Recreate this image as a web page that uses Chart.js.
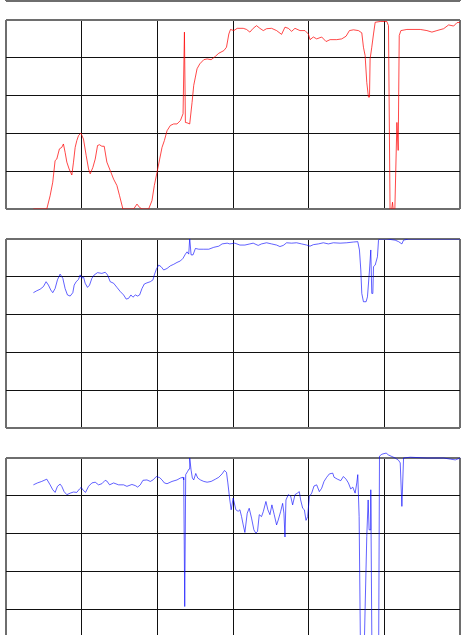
<!DOCTYPE html>
<html lang="en">
<head>
    <meta charset="UTF-8">
    <title>Three trace panels</title>
    <script src="https://cdn.jsdelivr.net/npm/chart.js"></script>
    <style>
        body {
            margin: 0;
            width: 466px;
            height: 635px;
            overflow: hidden;
            background: #fff;
            position: relative;
        }
        canvas {
            position: absolute;
            left: 0;
        }
    </style>
</head>
<body>
    <canvas id="strip" width="466" height="110" style="top:-100px"></canvas>
    <canvas id="red" width="466" height="220" style="top:0px"></canvas>
    <canvas id="blueA" width="466" height="220" style="top:219px"></canvas>
    <canvas id="blueB" width="466" height="220" style="top:438px"></canvas>

    <script>
        // x in grid units (6 columns of 10), y in grid units (5 rows of 1)
        const redX = [3.62, 5.39, 5.83, 6.18, 6.49, 6.71, 7.06, 7.37, 7.59, 7.81, 8.04, 8.34, 8.70, 8.92, 9.14, 9.36, 9.58, 9.89, 10.24, 10.60, 10.91, 11.13, 11.48, 11.79, 12.10, 12.36, 12.67, 12.98, 13.33, 13.77, 14.22, 14.66, 15.01, 15.45, 16.87, 17.31, 17.66, 17.97, 18.85, 19.29, 19.60, 19.96, 20.31, 20.62, 20.93, 21.28, 21.72, 22.16, 22.60, 23.05, 23.40, 23.58, 23.71, 23.93, 24.28, 24.59, 24.81, 25.03, 25.25, 25.61, 26.14, 26.58, 27.11, 27.68, 28.12, 28.79, 29.14, 29.45, 29.67, 30.11, 30.55, 31.35, 31.79, 32.23, 32.67, 33.11, 33.55, 34.00, 34.44, 35.10, 35.76, 36.42, 36.87, 37.31, 37.75, 38.19, 38.85, 39.51, 39.96, 40.18, 40.62, 41.06, 41.72, 42.30, 42.83, 43.71, 44.37, 44.94, 45.39, 45.92, 46.58, 47.02, 47.24, 47.46, 47.68, 47.90, 48.04, 48.12, 48.34, 48.57, 48.79, 49.45, 50.33, 50.55, 50.77, 51.08, 51.35, 51.66, 51.83, 51.97, 52.19, 52.98, 54.75, 55.63, 56.29, 56.95, 57.84, 58.50, 59.16, 59.60, 60.04];
        const redY = [0, 0, 0.35, 0.71, 1.28, 1.32, 1.59, 1.63, 1.72, 1.50, 1.24, 1.06, 0.90, 1.24, 1.63, 1.81, 1.94, 2.01, 1.85, 1.41, 1.06, 0.93, 1.10, 1.32, 1.68, 1.70, 1.66, 1.66, 1.24, 1.02, 0.79, 0.62, 0.35, 0, 0, 0.13, 0.04, 0, 0, 0.22, 0.62, 0.97, 1.32, 1.63, 1.81, 2.07, 2.21, 2.25, 2.25, 2.34, 2.52, 4.68, 2.29, 2.28, 2.25, 2.82, 3.27, 3.49, 3.71, 3.84, 3.95, 3.97, 3.95, 4.04, 4.12, 4.19, 4.28, 4.63, 4.75, 4.72, 4.78, 4.78, 4.75, 4.68, 4.78, 4.85, 4.78, 4.72, 4.77, 4.78, 4.72, 4.62, 4.81, 4.78, 4.70, 4.78, 4.72, 4.72, 4.63, 4.48, 4.55, 4.50, 4.55, 4.43, 4.48, 4.48, 4.50, 4.57, 4.72, 4.74, 4.72, 4.66, 4.28, 4.06, 3.35, 2.96, 2.96, 3.97, 4.28, 4.63, 4.94, 4.96, 4.96, 4.85, -0.35, 0.18, -0.35, 2.29, 1.55, 4.59, 4.72, 4.75, 4.75, 4.72, 4.68, 4.72, 4.77, 4.87, 4.84, 4.93, 4.94];

        const blueAX = [3.62, 4.06, 4.50, 4.94, 5.30, 5.61, 5.92, 6.18, 6.49, 6.80, 7.15, 7.51, 7.81, 8.12, 8.48, 8.83, 9.01, 9.27, 9.58, 9.80, 10.02, 10.24, 10.46, 10.77, 11.04, 11.35, 11.66, 12.10, 12.67, 13.11, 13.42, 13.77, 14.22, 14.66, 15.10, 15.54, 15.89, 16.20, 16.51, 16.78, 17.09, 17.40, 17.66, 17.97, 18.28, 18.63, 19.07, 19.43, 19.60, 19.87, 20.18, 20.49, 20.84, 21.28, 21.72, 22.16, 22.60, 23.05, 23.40, 23.71, 23.93, 24.15, 24.28, 24.46, 24.72, 25.03, 25.48, 26.14, 26.80, 27.46, 28.12, 28.56, 29.23, 29.58, 30.24, 30.91, 31.57, 32.23, 32.67, 33.33, 33.77, 34.44, 35.10, 35.76, 36.20, 36.64, 37.09, 37.75, 38.41, 39.07, 39.74, 40.18, 40.62, 41.28, 41.94, 42.60, 43.27, 44.15, 45.03, 45.92, 46.49, 46.71, 46.89, 47.02, 47.24, 47.59, 47.77, 48.04, 48.21, 48.34, 48.48, 48.57, 48.79, 49.09, 49.23, 49.36, 50.33, 51.43, 51.88, 52.32, 52.54, 53.20, 60.04];
        const blueAY = [3.58, 3.63, 3.67, 3.74, 3.87, 3.78, 3.65, 3.58, 3.69, 3.92, 4.07, 3.96, 3.69, 3.52, 3.49, 3.58, 3.78, 3.87, 3.93, 4.05, 3.96, 4.00, 3.83, 3.72, 3.78, 3.96, 4.05, 4.11, 4.09, 4.12, 4.05, 3.87, 3.83, 3.72, 3.61, 3.52, 3.41, 3.43, 3.52, 3.46, 3.52, 3.49, 3.52, 3.69, 3.81, 3.84, 3.87, 3.92, 4.05, 4.20, 4.31, 4.27, 4.18, 4.22, 4.29, 4.33, 4.38, 4.42, 4.49, 4.60, 4.66, 4.60, 5.02, 4.58, 4.58, 4.75, 4.73, 4.73, 4.73, 4.78, 4.81, 4.87, 4.89, 4.87, 4.89, 4.84, 4.84, 4.87, 4.89, 4.83, 4.87, 4.90, 4.87, 4.84, 4.80, 4.83, 4.90, 4.89, 4.90, 4.87, 4.84, 4.81, 4.85, 4.87, 4.90, 4.87, 4.90, 4.89, 4.90, 4.92, 4.93, 4.71, 4.18, 3.56, 3.34, 3.34, 3.47, 4.18, 4.71, 3.56, 3.56, 4.27, 4.31, 4.53, 4.97, 5.00, 5.00, 4.97, 4.93, 4.87, 4.97, 5.00, 5.00];

        const blueBX = [3.62, 4.15, 4.72, 5.39, 5.83, 6.18, 6.49, 6.80, 7.15, 7.37, 7.68, 8.04, 8.48, 8.92, 9.36, 9.71, 9.93, 10.24, 10.51, 10.91, 11.35, 11.79, 12.23, 12.67, 13.11, 13.33, 13.69, 14.22, 14.88, 15.54, 15.98, 16.64, 17.09, 17.40, 17.75, 18.10, 18.63, 19.07, 19.43, 19.87, 20.31, 20.62, 20.93, 21.28, 21.94, 22.60, 23.05, 23.40, 23.49, 23.62, 23.75, 24.02, 24.19, 24.28, 24.46, 24.63, 24.81, 25.08, 25.34, 25.70, 26.14, 26.58, 27.11, 27.68, 28.12, 28.56, 28.87, 29.14, 29.32, 29.58, 29.76, 30.02, 30.38, 30.68, 30.91, 31.13, 31.35, 31.57, 31.88, 32.14, 32.45, 32.76, 33.02, 33.24, 33.47, 33.77, 34.00, 34.35, 34.61, 34.88, 35.14, 35.45, 35.76, 35.98, 36.29, 36.56, 36.73, 36.87, 37.00, 37.31, 37.62, 37.88, 38.19, 38.50, 38.76, 38.94, 39.21, 39.43, 39.65, 39.87, 40.09, 40.40, 40.71, 41.06, 41.41, 41.72, 42.03, 42.38, 42.74, 43.18, 43.36, 43.80, 44.24, 44.59, 44.94, 45.25, 45.56, 45.83, 46.14, 46.36, 46.49, 46.67, 46.89, 47.24, 47.46, 47.68, 47.86, 47.99, 48.12, 48.21, 48.39, 49.23, 49.36, 49.67, 50.24, 50.55, 50.99, 51.43, 51.88, 52.10, 52.32, 52.54, 53.42, 55.63, 57.84, 58.72, 59.38, 60.04];
        const blueBY = [4.29, 4.34, 4.38, 4.44, 4.29, 4.16, 4.09, 4.25, 4.31, 4.25, 4.11, 4.03, 4.07, 4.10, 4.09, 4.18, 4.22, 4.14, 4.09, 4.25, 4.34, 4.36, 4.29, 4.32, 4.41, 4.39, 4.29, 4.34, 4.29, 4.29, 4.25, 4.30, 4.27, 4.23, 4.29, 4.41, 4.42, 4.38, 4.42, 4.51, 4.48, 4.42, 4.34, 4.32, 4.38, 4.42, 4.47, 4.49, 4.42, 1.07, 4.56, 4.65, 4.71, 5.00, 4.68, 4.47, 4.42, 4.59, 4.47, 4.42, 4.38, 4.36, 4.38, 4.44, 4.49, 4.58, 4.67, 4.62, 4.34, 3.89, 3.63, 3.94, 3.63, 3.59, 3.63, 3.45, 3.23, 3.03, 3.54, 3.67, 3.41, 3.10, 3.01, 3.06, 3.50, 3.45, 3.58, 3.85, 3.63, 3.50, 3.76, 3.50, 3.23, 3.36, 3.58, 3.80, 3.54, 2.91, 3.89, 4.03, 3.99, 3.76, 4.03, 4.07, 4.11, 3.89, 3.67, 3.63, 3.35, 3.45, 3.98, 4.07, 4.26, 4.29, 4.11, 4.20, 4.38, 4.49, 4.58, 4.60, 4.49, 4.44, 4.40, 4.51, 4.44, 4.34, 4.18, 4.23, 4.07, 4.34, 4.56, 3.45, -0.96, -0.96, 1.02, 2.92, 3.89, 3.10, 3.10, 4.16, -0.96, -0.96, 5.05, 5.10, 5.13, 5.08, 5.04, 5.00, 4.94, 4.87, 3.72, 5.00, 5.02, 5.00, 5.00, 4.97, 4.95, 5.00];

        function points(xs, ys) {
            return xs.map((x, i) => ({ x: x, y: ys[i] }));
        }

        function gridStyle(min, max) {
            return {
                drawTicks: false,
                color: ctx => (ctx.tick && (ctx.tick.value === min || ctx.tick.value === max)) ? '#6e6e6e' : '#111',
                lineWidth: ctx => (ctx.tick && (ctx.tick.value === min || ctx.tick.value === max)) ? 2 : 1
            };
        }

        function makePanel(id, data, color, xStep, padTop, padBottom, clip) {
            const ctx = document.getElementById(id).getContext('2d');
            return new Chart(ctx, {
                type: 'line',
                data: {
                    datasets: [{
                        data: data,
                        borderColor: color,
                        borderWidth: 1,
                        pointRadius: 0,
                        tension: 0,
                        fill: false,
                        clip: clip
                    }]
                },
                options: {
                    responsive: false,
                    animation: false,
                    events: [],
                    layout: { padding: { left: 6, right: 6, top: padTop, bottom: padBottom } },
                    plugins: { legend: { display: false }, tooltip: { enabled: false } },
                    scales: {
                        x: {
                            type: 'linear', min: 0, max: 60,
                            ticks: { display: false, stepSize: xStep },
                            grid: gridStyle(0, 60),
                            border: { display: false }
                        },
                        y: {
                            min: 0, max: 5,
                            ticks: { display: false, stepSize: 1 },
                            grid: gridStyle(0, 5),
                            border: { display: false }
                        }
                    }
                }
            });
        }

        makePanel('strip', [], '#000', 5, 0, 9, undefined);
        makePanel('red', points(redX, redY), 'rgba(255,0,0,0.72)', 10, 20, 11, undefined);
        makePanel('blueA', points(blueAX, blueAY), 'rgba(0,0,255,0.62)', 10, 20, 11, undefined);
        makePanel('blueB', points(blueBX, blueBY), 'rgba(0,0,255,0.62)', 10, 20, 11, false);
    </script>
</body>
</html>
